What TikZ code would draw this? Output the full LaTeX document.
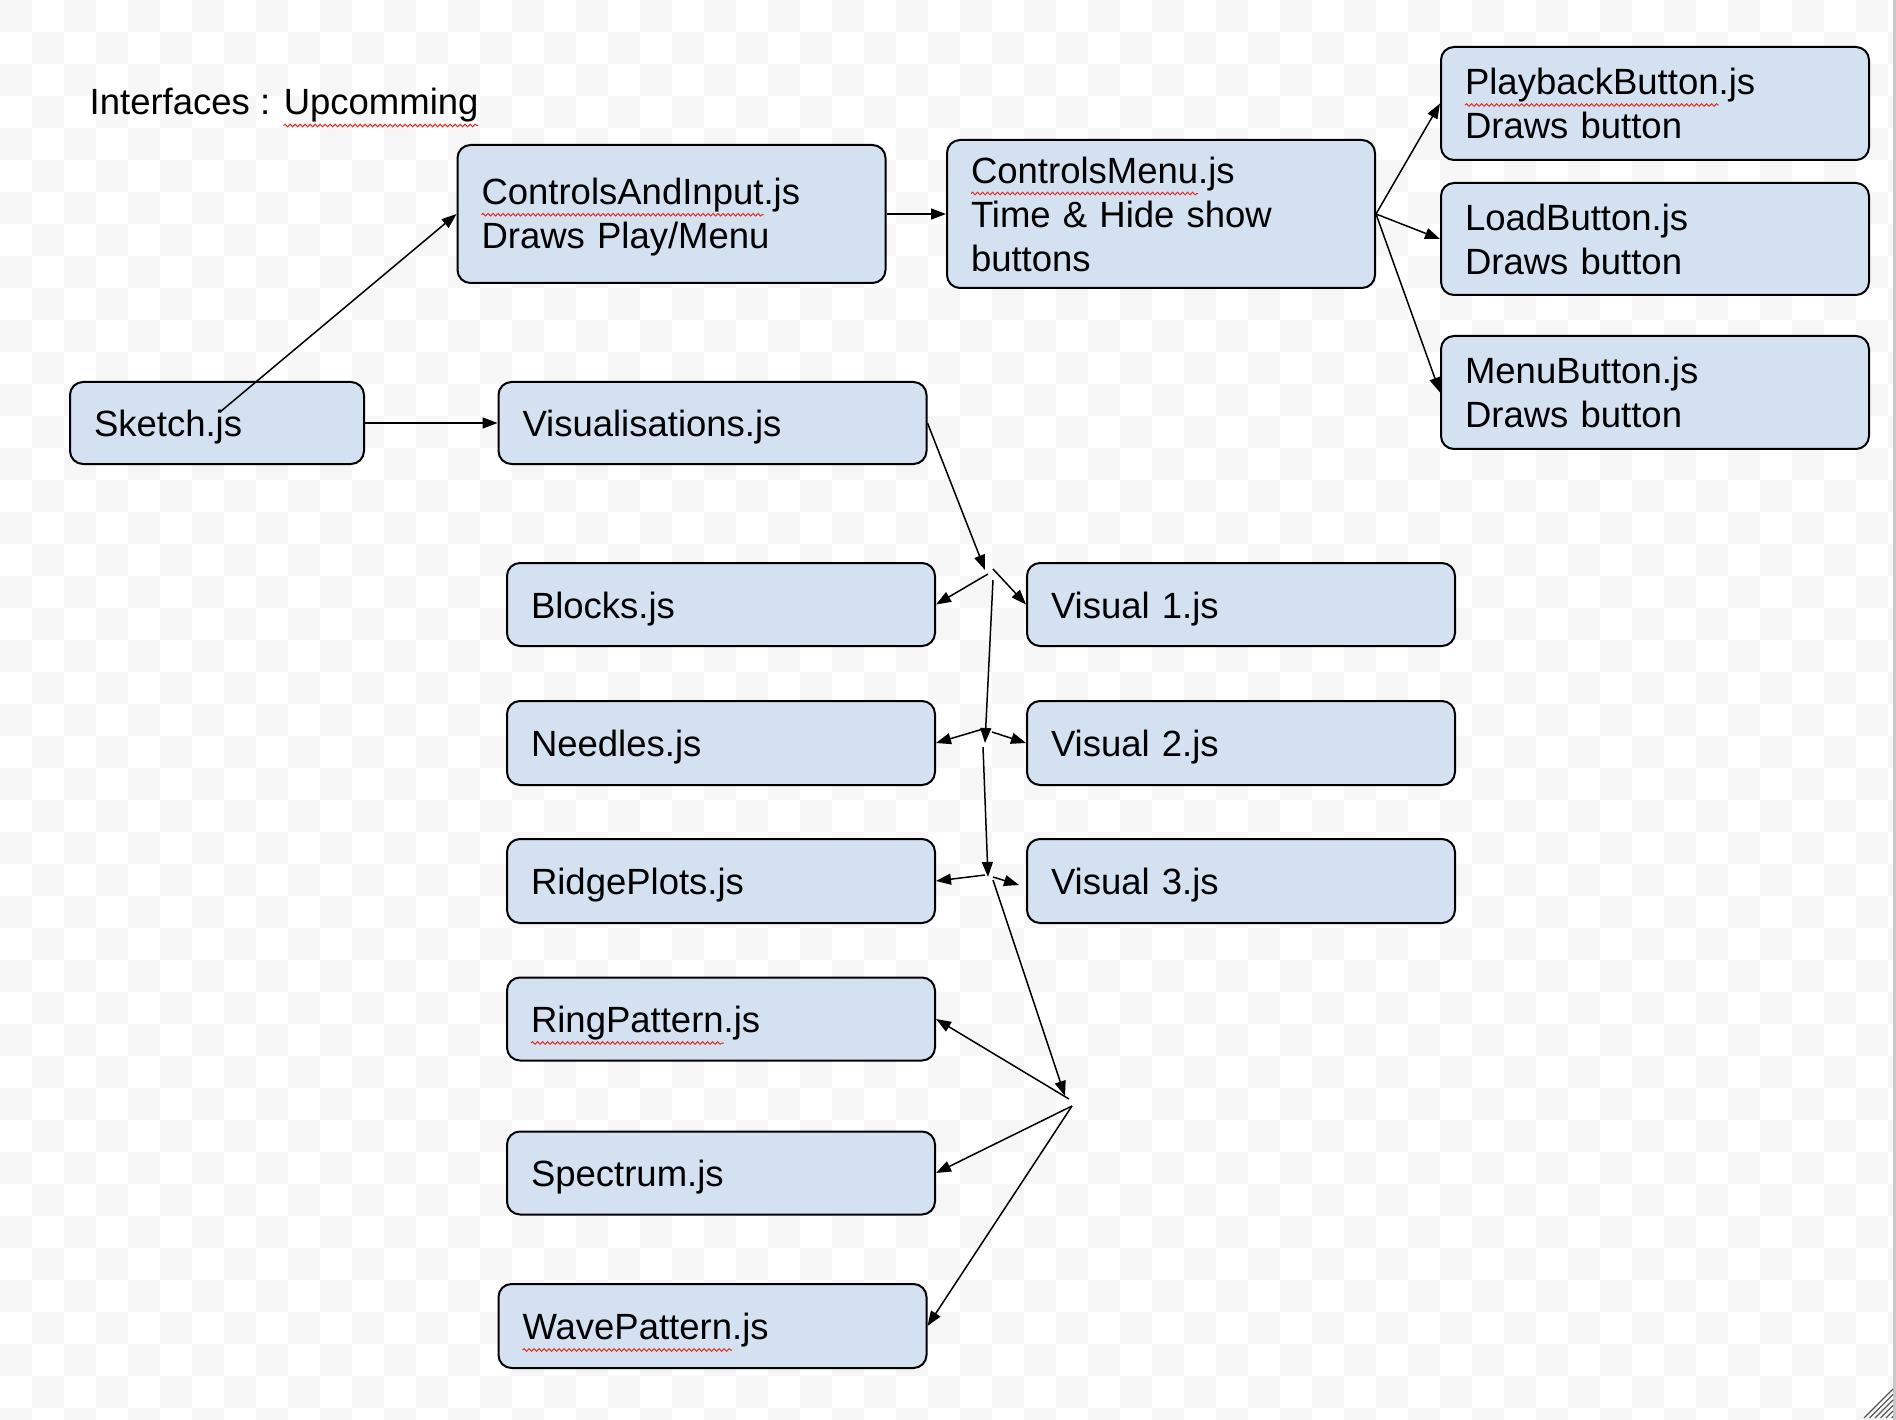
\documentclass[tikz,border=0pt]{standalone}
\usepackage{fontspec}
\setmainfont{Liberation Sans}
\usetikzlibrary{arrows.meta,decorations.pathmorphing}
\definecolor{chk}{RGB}{246,246,246}
\definecolor{boxfill}{RGB}{212,225,241}
\definecolor{edgegray}{RGB}{200,200,200}
\definecolor{squigred}{RGB}{228,45,40}
\newcommand\lblfont{\fontsize{36.5}{44}\selectfont}
\tikzset{
  lbl/.style={font=\lblfont},
  box/.style={lbl, draw=black, line width=2pt, fill=boxfill, rounded corners=13pt,
    inner xsep=24pt, inner ysep=0pt, align=left},
  wbox/.style={box, minimum width=428pt, text width=380pt},
  one/.style={text height=27pt, text depth=0pt},
  arr/.style={-{Triangle[length=15pt,width=11pt]}, line width=1.5pt, draw=black},
  squig/.style={draw=squigred, line width=1pt, decorate, decoration={snake,amplitude=1.3pt,segment length=5pt}}
}
\newlength\wUp \newlength\wPre \newlength\wCAI \newlength\wCM \newlength\wPB \newlength\wRP \newlength\wWP
\begin{document}
\settowidth\wPre{\lblfont Interfaces : }%
\settowidth\wUp{\lblfont Upcomming}%
\settowidth\wCAI{\lblfont ControlsAndInput}%
\settowidth\wCM{\lblfont ControlsMenu}%
\settowidth\wPB{\lblfont PlaybackButton}%
\settowidth\wRP{\lblfont RingPattern}%
\settowidth\wWP{\lblfont WavePattern}%
\begin{tikzpicture}[x=1pt,y=-1pt]
\useasboundingbox (0,0) rectangle (1896,1420);
\begin{scope}
\clip (0,0) rectangle (1896,1420);
\fill[white] (0,0) rectangle (1896,1420);
\foreach \j in {0,...,44}{
  \pgfmathtruncatemacro\off{mod(\j,2)}
  \foreach \k in {0,...,29}{
    \fill[chk] ({(2*\k+\off)*32},{\j*32}) rectangle ++(32,32);
  }
}
\fill[edgegray] (1893,0) rectangle (1896,1420);
\foreach \k in {0,...,5}{
  \draw[black!65, line width=1.3pt] ({1864+\k*5.5},1418) -- (1893,{1389+\k*5.5});
}
\end{scope}

% title
\node[lbl, anchor=base west, inner sep=0pt] (title) at (89.5,115) {Interfaces : Upcomming};

% boxes
\node[wbox, minimum height=138pt] (cai) at (671.5,214) {\rule{0pt}{32pt}ControlsAndInput.js\\Draws Play/Menu};
\node[wbox, minimum height=148pt] (cm) at (1161,214) {ControlsMenu.js\\Time \& Hide show\\buttons};
\node[wbox, minimum height=113pt] (pb) at (1655,103.5) {PlaybackButton.js\\Draws button};
\node[wbox, minimum height=112pt] (lb) at (1655,239) {LoadButton.js\\Draws button};
\node[wbox, minimum height=113pt] (mb) at (1655,392.5) {MenuButton.js\\Draws button};

\node[box, one, minimum width=294pt, text width=246pt, minimum height=82pt] (sk) at (217,423) {Sketch.js};
\node[wbox, one, minimum height=82pt] (vis) at (712.5,423) {Visualisations.js};

\node[wbox, one, minimum height=83pt] (blk) at (721,604.5) {Blocks.js};
\node[wbox, one, minimum height=83pt] (v1) at (1241,604.5) {Visual 1.js};
\node[wbox, one, minimum height=84pt] (ndl) at (721,743) {Needles.js};
\node[wbox, one, minimum height=84pt] (v2) at (1241,743) {Visual 2.js};
\node[wbox, one, minimum height=84pt] (rdg) at (721,881) {RidgePlots.js};
\node[wbox, one, minimum height=84pt] (v3) at (1241,881) {Visual 3.js};
\node[wbox, one, minimum height=83pt] (ring) at (721,1019) {RingPattern.js};
\node[wbox, one, minimum height=83pt] (spec) at (721,1173) {Spectrum.js};
\node[wbox, one, minimum height=84pt] (wave) at (712.5,1326) {WavePattern.js};

% spell-check squiggles
\coordinate (sq0) at ([xshift=\wPre,yshift=-10.5pt]title.base west);
\coordinate (sq1) at ([xshift=25pt,yshift=-10.5pt]cai.base west);
\coordinate (sq2) at ([xshift=25pt,yshift=-10.5pt]cm.base west);
\coordinate (sq3) at ([xshift=25pt,yshift=-10.5pt]pb.base west);
\coordinate (sq4) at ([xshift=25pt,yshift=-10.5pt]ring.base west);
\coordinate (sq5) at ([xshift=25pt,yshift=-10.5pt]wave.base west);
\draw[squig] (sq0) -- ([xshift=\wUp]sq0);
\draw[squig] (sq1) -- ([xshift=\wCAI]sq1);
\draw[squig] (sq2) -- ([xshift=\wCM]sq2);
\draw[squig] (sq3) -- ([xshift=\wPB]sq3);
\draw[squig] (sq4) -- ([xshift=\wRP]sq4);
\draw[squig] (sq5) -- ([xshift=\wWP]sq5);

% junction coordinates
\coordinate (sks) at (220,412);
\coordinate (j1a) at (985,570);
\coordinate (j1b) at (988,574);
\coordinate (j1c) at (993,569);
\coordinate (j1d) at (993,580);
\coordinate (j2a) at (985,743);
\coordinate (j2b) at (983,729);
\coordinate (j2c) at (992,732);
\coordinate (j2d) at (983,747);
\coordinate (j3a) at (988,877);
\coordinate (j3b) at (985,875);
\coordinate (j3c) at (993,877);
\coordinate (v3t) at (1019,885);
\coordinate (j3d) at (993,880);
\coordinate (j4a) at (1065,1096);
\coordinate (j4b) at (1069,1099);
\coordinate (j4c) at (1072,1106);

% connectors
\draw[arr] (sks) -- (cai.west);
\draw[arr] (sk.east) -- (vis.west);
\draw[arr] (cai.east) -- (cm.west);
\draw[arr] (cm.east) -- (pb.west);
\draw[arr] (cm.east) -- (lb.west);
\draw[arr] (cm.east) -- (mb.west);

\draw[arr] (vis.east) -- (j1a);
\draw[arr] (j1b) -- (blk.east);
\draw[arr] (j1c) -- (v1.west);
\draw[arr] (j1d) -- (j2a);
\draw[arr] (j2b) -- (ndl.east);
\draw[arr] (j2c) -- (v2.west);
\draw[arr] (j2d) -- (j3a);
\draw[arr] (j3b) -- (rdg.east);
\draw[arr] (j3c) -- (v3t);
\draw[arr] (j3d) -- (j4a);
\draw[arr] (j4b) -- (ring.east);
\draw[arr] (j4c) -- (spec.east);
\draw[arr] (j4c) -- (wave.east);
\end{tikzpicture}
\end{document}
